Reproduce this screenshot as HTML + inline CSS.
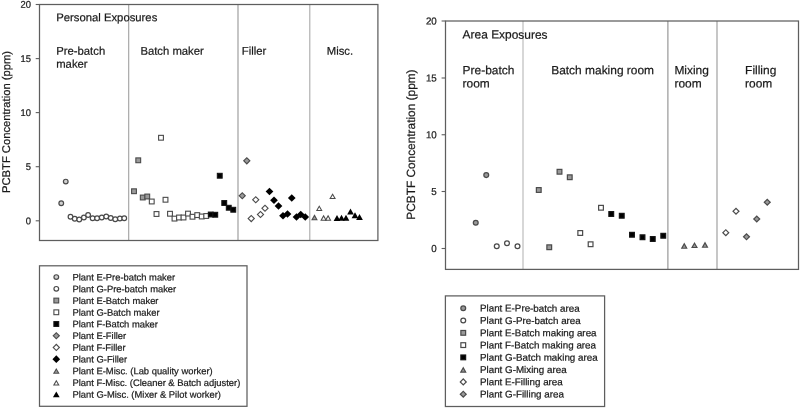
<!DOCTYPE html>
<html lang="en"><head><meta charset="utf-8"><title>PCBTF Concentration - Personal and Area Exposures</title>
<style>html,body{margin:0;padding:0;background:#fff}svg{display:block}text{font-family:"Liberation Sans",Arial,sans-serif;fill:#1a1a1a;stroke:#1a1a1a;stroke-width:.22px}</style></head><body>
<svg width="800" height="408" viewBox="0 0 800 408">
<rect width="800" height="408" fill="#fff"/>
<g fill="none" stroke="#5e5e5e" stroke-width="1.25">
<line x1="128.7" y1="4.5" x2="128.7" y2="240.5" stroke="#a0a0a0" stroke-width="1.1"/>
<line x1="238.0" y1="4.5" x2="238.0" y2="240.5" stroke="#969696" stroke-width="1.1"/>
<line x1="309.8" y1="4.5" x2="309.8" y2="240.5" stroke="#a8a8a8" stroke-width="1.1"/>
<rect x="39.5" y="4.5" width="338.4" height="236"/>
<line x1="35.7" y1="4.5" x2="39.5" y2="4.5" stroke-width="1.1"/>
<line x1="35.7" y1="58.6" x2="39.5" y2="58.6" stroke-width="1.1"/>
<line x1="35.7" y1="112.6" x2="39.5" y2="112.6" stroke-width="1.1"/>
<line x1="35.7" y1="166.7" x2="39.5" y2="166.7" stroke-width="1.1"/>
<line x1="35.7" y1="220.8" x2="39.5" y2="220.8" stroke-width="1.1"/>
</g>
<text transform="translate(30.9 7.85) rotate(.03) scale(1 1.04)" font-size="9.4" text-anchor="end">20</text>
<text transform="translate(30.9 61.95) rotate(.03) scale(1 1.04)" font-size="9.4" text-anchor="end">15</text>
<text transform="translate(30.9 115.95) rotate(.03) scale(1 1.04)" font-size="9.4" text-anchor="end">10</text>
<text transform="translate(30.9 170.05) rotate(.03) scale(1 1.04)" font-size="9.4" text-anchor="end">5</text>
<text transform="translate(30.9 224.15) rotate(.03) scale(1 1.04)" font-size="9.4" text-anchor="end">0</text>
<text transform="translate(10.1 122) rotate(-89.97)" font-size="11.2" text-anchor="middle" textLength="142" lengthAdjust="spacingAndGlyphs">PCBTF Concentration (ppm)</text>
<g font-size="11.3">
<text transform="translate(56.2 21.3) rotate(.03)">Personal Exposures</text>
<text transform="translate(56.2 54.8) rotate(.03)">Pre-batch</text>
<text transform="translate(56.2 67.8) rotate(.03)">maker</text>
<text transform="translate(140.4 54.8) rotate(.03)">Batch maker</text>
<text transform="translate(241.8 54.8) rotate(.03)">Filler</text>
<text transform="translate(326.8 54.8) rotate(.03)">Misc.</text>
</g>
<circle cx="65.75" cy="181.6" r="2.35" fill="#d0d0d0" stroke="#4a4a4a" stroke-width="1.2"/>
<circle cx="61.25" cy="203.25" r="2.35" fill="#d0d0d0" stroke="#4a4a4a" stroke-width="1.2"/>
<circle cx="70.5" cy="216.75" r="2.35" fill="#fff" stroke="#4a4a4a" stroke-width="1.2"/>
<circle cx="74.75" cy="218.75" r="2.35" fill="#fff" stroke="#4a4a4a" stroke-width="1.2"/>
<circle cx="79.25" cy="219.5" r="2.35" fill="#fff" stroke="#4a4a4a" stroke-width="1.2"/>
<circle cx="83.9" cy="217.5" r="2.35" fill="#fff" stroke="#4a4a4a" stroke-width="1.2"/>
<circle cx="88.1" cy="215" r="2.35" fill="#fff" stroke="#4a4a4a" stroke-width="1.2"/>
<circle cx="92.6" cy="218.25" r="2.35" fill="#fff" stroke="#4a4a4a" stroke-width="1.2"/>
<circle cx="97.1" cy="218.25" r="2.35" fill="#fff" stroke="#4a4a4a" stroke-width="1.2"/>
<circle cx="101.75" cy="217.5" r="2.35" fill="#fff" stroke="#4a4a4a" stroke-width="1.2"/>
<circle cx="106.25" cy="216.5" r="2.35" fill="#fff" stroke="#4a4a4a" stroke-width="1.2"/>
<circle cx="110.75" cy="218" r="2.35" fill="#fff" stroke="#4a4a4a" stroke-width="1.2"/>
<circle cx="115.25" cy="219.25" r="2.35" fill="#fff" stroke="#4a4a4a" stroke-width="1.2"/>
<circle cx="119.9" cy="218.5" r="2.35" fill="#fff" stroke="#4a4a4a" stroke-width="1.2"/>
<circle cx="124.25" cy="218.25" r="2.35" fill="#fff" stroke="#4a4a4a" stroke-width="1.2"/>
<rect x="135.85" y="157.9" width="4.8" height="4.8" fill="#9a9a9a" stroke="#4a4a4a" stroke-width="1.1"/>
<rect x="131.6" y="188.85" width="4.8" height="4.8" fill="#9a9a9a" stroke="#4a4a4a" stroke-width="1.1"/>
<rect x="140.35" y="195.1" width="4.8" height="4.8" fill="#9a9a9a" stroke="#4a4a4a" stroke-width="1.1"/>
<rect x="144.85" y="194.1" width="4.8" height="4.8" fill="#9a9a9a" stroke="#4a4a4a" stroke-width="1.1"/>
<rect x="149.35" y="199.1" width="4.8" height="4.8" fill="#fff" stroke="#4a4a4a" stroke-width="1.1"/>
<rect x="154.1" y="211.6" width="4.8" height="4.8" fill="#fff" stroke="#4a4a4a" stroke-width="1.1"/>
<rect x="158.6" y="135.35" width="4.8" height="4.8" fill="#fff" stroke="#4a4a4a" stroke-width="1.1"/>
<rect x="163.1" y="197.35" width="4.8" height="4.8" fill="#fff" stroke="#4a4a4a" stroke-width="1.1"/>
<rect x="167.6" y="211.35" width="4.8" height="4.8" fill="#fff" stroke="#4a4a4a" stroke-width="1.1"/>
<rect x="172.1" y="216.2" width="4.8" height="4.8" fill="#fff" stroke="#4a4a4a" stroke-width="1.1"/>
<rect x="176.6" y="215.1" width="4.8" height="4.8" fill="#fff" stroke="#4a4a4a" stroke-width="1.1"/>
<rect x="181.1" y="215.1" width="4.8" height="4.8" fill="#fff" stroke="#4a4a4a" stroke-width="1.1"/>
<rect x="185.6" y="211.2" width="4.8" height="4.8" fill="#fff" stroke="#4a4a4a" stroke-width="1.1"/>
<rect x="190.1" y="214.35" width="4.8" height="4.8" fill="#fff" stroke="#4a4a4a" stroke-width="1.1"/>
<rect x="194.85" y="212.7" width="4.8" height="4.8" fill="#fff" stroke="#4a4a4a" stroke-width="1.1"/>
<rect x="199.35" y="214.1" width="4.8" height="4.8" fill="#fff" stroke="#4a4a4a" stroke-width="1.1"/>
<rect x="203.85" y="213.6" width="4.8" height="4.8" fill="#fff" stroke="#4a4a4a" stroke-width="1.1"/>
<rect x="208.35" y="212.1" width="4.8" height="4.8" fill="#000" stroke="#141414" stroke-width="1.1"/>
<rect x="212.85" y="212.35" width="4.8" height="4.8" fill="#000" stroke="#141414" stroke-width="1.1"/>
<rect x="217.35" y="173.35" width="4.8" height="4.8" fill="#000" stroke="#141414" stroke-width="1.1"/>
<rect x="221.85" y="200.6" width="4.8" height="4.8" fill="#000" stroke="#141414" stroke-width="1.1"/>
<rect x="226.35" y="205.35" width="4.8" height="4.8" fill="#000" stroke="#141414" stroke-width="1.1"/>
<rect x="230.85" y="207.35" width="4.8" height="4.8" fill="#000" stroke="#141414" stroke-width="1.1"/>
<polygon points="246.8,156.95 250.65,160.8 246.8,164.65 242.95,160.8" fill="#4a4a4a"/><polygon points="246.8,158.51 249.09,160.8 246.8,163.09 244.51,160.8" fill="#9a9a9a"/>
<polygon points="242.25,191.9 246.1,195.75 242.25,199.6 238.4,195.75" fill="#4a4a4a"/><polygon points="242.25,193.46 244.54,195.75 242.25,198.04 239.96,195.75" fill="#9a9a9a"/>
<polygon points="251.25,214.7 255.1,218.55 251.25,222.4 247.4,218.55" fill="#4a4a4a"/><polygon points="251.25,216.26 253.54,218.55 251.25,220.84 248.96,218.55" fill="#fff"/>
<polygon points="255.75,195.9 259.6,199.75 255.75,203.6 251.9,199.75" fill="#4a4a4a"/><polygon points="255.75,197.46 258.04,199.75 255.75,202.04 253.46,199.75" fill="#fff"/>
<polygon points="260.5,210.65 264.35,214.5 260.5,218.35 256.65,214.5" fill="#4a4a4a"/><polygon points="260.5,212.21 262.79,214.5 260.5,216.79 258.21,214.5" fill="#fff"/>
<polygon points="265,204.4 268.85,208.25 265,212.1 261.15,208.25" fill="#4a4a4a"/><polygon points="265,205.96 267.29,208.25 265,210.54 262.71,208.25" fill="#fff"/>
<polygon points="269.5,187.65 273.35,191.5 269.5,195.35 265.65,191.5" fill="#000"/>
<polygon points="274,196.4 277.85,200.25 274,204.1 270.15,200.25" fill="#000"/>
<polygon points="278.5,202.15 282.35,206 278.5,209.85 274.65,206" fill="#000"/>
<polygon points="283,211.9 286.85,215.75 283,219.6 279.15,215.75" fill="#000"/>
<polygon points="287.5,210.15 291.35,214 287.5,217.85 283.65,214" fill="#000"/>
<polygon points="291.75,194.15 295.6,198 291.75,201.85 287.9,198" fill="#000"/>
<polygon points="296.5,213.15 300.35,217 296.5,220.85 292.65,217" fill="#000"/>
<polygon points="300.75,210.65 304.6,214.5 300.75,218.35 296.9,214.5" fill="#000"/>
<polygon points="305.25,213.15 309.1,217 305.25,220.85 301.4,217" fill="#000"/>
<polygon points="314.5,214.35 317.85,220.25 311.15,220.25" fill="#4a4a4a"/><polygon points="314.5,216.48 316.05,219.2 312.95,219.2" fill="#9a9a9a"/>
<polygon points="319.25,205.15 322.6,211.05 315.9,211.05" fill="#4a4a4a"/><polygon points="319.25,207.28 320.8,210 317.7,210" fill="#fff"/>
<polygon points="323.6,214.85 326.95,220.75 320.25,220.75" fill="#4a4a4a"/><polygon points="323.6,216.98 325.15,219.7 322.05,219.7" fill="#fff"/>
<polygon points="328.1,214.85 331.45,220.75 324.75,220.75" fill="#4a4a4a"/><polygon points="328.1,216.98 329.65,219.7 326.55,219.7" fill="#fff"/>
<polygon points="332.6,193.15 335.95,199.05 329.25,199.05" fill="#4a4a4a"/><polygon points="332.6,195.28 334.15,198 331.05,198" fill="#fff"/>
<polygon points="337,215.05 340.35,220.95 333.65,220.95" fill="#000"/>
<polygon points="341.5,214.8 344.85,220.7 338.15,220.7" fill="#000"/>
<polygon points="346,214.8 349.35,220.7 342.65,220.7" fill="#000"/>
<polygon points="350.5,208.55 353.85,214.45 347.15,214.45" fill="#000"/>
<polygon points="355,212.3 358.35,218.2 351.65,218.2" fill="#000"/>
<polygon points="359.5,214.05 362.85,219.95 356.15,219.95" fill="#000"/>
<rect x="39.5" y="265.8" width="207.5" height="140.5" fill="#fff" stroke="#5e5e5e" stroke-width="1.25"/>
<circle cx="56.3" cy="277.1" r="2.35" fill="#d0d0d0" stroke="#4a4a4a" stroke-width="1.2"/>
<text transform="translate(72.5 280.45) rotate(.03)" font-size="9.4">Plant E-Pre-batch maker</text>
<circle cx="56.3" cy="288.83" r="2.35" fill="#fff" stroke="#4a4a4a" stroke-width="1.2"/>
<text transform="translate(72.5 292.18) rotate(.03)" font-size="9.4">Plant G-Pre-batch maker</text>
<rect x="53.9" y="298.15" width="4.8" height="4.8" fill="#9a9a9a" stroke="#4a4a4a" stroke-width="1.1"/>
<text transform="translate(72.5 303.9) rotate(.03)" font-size="9.4">Plant E-Batch maker</text>
<rect x="53.9" y="309.88" width="4.8" height="4.8" fill="#fff" stroke="#4a4a4a" stroke-width="1.1"/>
<text transform="translate(72.5 315.63) rotate(.03)" font-size="9.4">Plant G-Batch maker</text>
<rect x="53.9" y="321.6" width="4.8" height="4.8" fill="#000" stroke="#141414" stroke-width="1.1"/>
<text transform="translate(72.5 327.35) rotate(.03)" font-size="9.4">Plant F-Batch maker</text>
<polygon points="56.3,331.88 60.15,335.73 56.3,339.58 52.45,335.73" fill="#4a4a4a"/><polygon points="56.3,333.43 58.59,335.73 56.3,338.02 54.01,335.73" fill="#9a9a9a"/>
<text transform="translate(72.5 339.08) rotate(.03)" font-size="9.4">Plant E-Filler</text>
<polygon points="56.3,343.6 60.15,347.45 56.3,351.3 52.45,347.45" fill="#4a4a4a"/><polygon points="56.3,345.16 58.59,347.45 56.3,349.74 54.01,347.45" fill="#fff"/>
<text transform="translate(72.5 350.8) rotate(.03)" font-size="9.4">Plant F-Filler</text>
<polygon points="56.3,355.32 60.15,359.18 56.3,363.03 52.45,359.18" fill="#000"/>
<text transform="translate(72.5 362.53) rotate(.03)" font-size="9.4">Plant G-Filler</text>
<polygon points="56.3,367.95 59.65,373.85 52.95,373.85" fill="#4a4a4a"/><polygon points="56.3,370.08 57.85,372.8 54.75,372.8" fill="#9a9a9a"/>
<text transform="translate(72.5 374.25) rotate(.03)" font-size="9.4">Plant E-Misc. (Lab quality worker)</text>
<polygon points="56.3,379.68 59.65,385.57 52.95,385.57" fill="#4a4a4a"/><polygon points="56.3,381.8 57.85,384.52 54.75,384.52" fill="#fff"/>
<text transform="translate(72.5 385.98) rotate(.03)" font-size="9.4">Plant F-Misc. (Cleaner &amp; Batch adjuster)</text>
<polygon points="56.3,391.4 59.65,397.3 52.95,397.3" fill="#000"/>
<text transform="translate(72.5 397.7) rotate(.03)" font-size="9.4">Plant G-Misc. (Mixer &amp; Pilot worker)</text>
<g fill="none" stroke="#5e5e5e" stroke-width="1.25">
<line x1="523.0" y1="21.0" x2="523.0" y2="269.4" stroke="#b6b6b6" stroke-width="1.1"/>
<line x1="667.9" y1="21.0" x2="667.9" y2="269.4" stroke="#8e8e8e" stroke-width="1.1"/>
<line x1="717.0" y1="21.0" x2="717.0" y2="269.4" stroke="#989898" stroke-width="1.1"/>
<rect x="445.5" y="21.0" width="353" height="248.4"/>
<line x1="441.6" y1="21" x2="445.5" y2="21" stroke-width="1.1"/>
<line x1="441.6" y1="78" x2="445.5" y2="78" stroke-width="1.1"/>
<line x1="441.6" y1="134.75" x2="445.5" y2="134.75" stroke-width="1.1"/>
<line x1="441.6" y1="191.5" x2="445.5" y2="191.5" stroke-width="1.1"/>
<line x1="441.6" y1="248.5" x2="445.5" y2="248.5" stroke-width="1.1"/>
</g>
<text transform="translate(436.8 24.5) rotate(.03) scale(1 1.04)" font-size="9.8" text-anchor="end">20</text>
<text transform="translate(436.8 81.5) rotate(.03) scale(1 1.04)" font-size="9.8" text-anchor="end">15</text>
<text transform="translate(436.8 138.25) rotate(.03) scale(1 1.04)" font-size="9.8" text-anchor="end">10</text>
<text transform="translate(436.8 195) rotate(.03) scale(1 1.04)" font-size="9.8" text-anchor="end">5</text>
<text transform="translate(436.8 252) rotate(.03) scale(1 1.04)" font-size="9.8" text-anchor="end">0</text>
<text transform="translate(415 144.6) rotate(-89.97)" font-size="11.9" text-anchor="middle" textLength="150.3" lengthAdjust="spacingAndGlyphs">PCBTF Concentration (ppm)</text>
<g font-size="11.95">
<text transform="translate(462.6 38.6) rotate(.03)">Area Exposures</text>
<text transform="translate(462.6 74.3) rotate(.03)">Pre-batch</text>
<text transform="translate(462.6 87.6) rotate(.03)">room</text>
<text transform="translate(551.2 74.3) rotate(.03)">Batch making room</text>
<text transform="translate(674.4 74.3) rotate(.03)">Mixing</text>
<text transform="translate(674.4 87.6) rotate(.03)">room</text>
<text transform="translate(745.1 74.3) rotate(.03)">Filling</text>
<text transform="translate(745.1 87.6) rotate(.03)">room</text>
</g>
<circle cx="486.25" cy="175.1" r="2.42" fill="#9a9a9a" stroke="#4a4a4a" stroke-width="1.25"/>
<circle cx="475.75" cy="222.75" r="2.42" fill="#9a9a9a" stroke="#4a4a4a" stroke-width="1.25"/>
<circle cx="496.75" cy="246.25" r="2.42" fill="#fff" stroke="#4a4a4a" stroke-width="1.25"/>
<circle cx="507" cy="243.25" r="2.42" fill="#fff" stroke="#4a4a4a" stroke-width="1.25"/>
<circle cx="517.5" cy="246.25" r="2.42" fill="#fff" stroke="#4a4a4a" stroke-width="1.25"/>
<rect x="536.38" y="187.62" width="4.75" height="4.75" fill="#9a9a9a" stroke="#4a4a4a" stroke-width="1.2"/>
<rect x="546.88" y="244.88" width="4.75" height="4.75" fill="#9a9a9a" stroke="#4a4a4a" stroke-width="1.2"/>
<rect x="557.12" y="169.38" width="4.75" height="4.75" fill="#9a9a9a" stroke="#4a4a4a" stroke-width="1.2"/>
<rect x="567.38" y="174.88" width="4.75" height="4.75" fill="#9a9a9a" stroke="#4a4a4a" stroke-width="1.2"/>
<rect x="577.88" y="230.62" width="4.75" height="4.75" fill="#fff" stroke="#4a4a4a" stroke-width="1.2"/>
<rect x="588.23" y="241.88" width="4.75" height="4.75" fill="#fff" stroke="#4a4a4a" stroke-width="1.2"/>
<rect x="598.62" y="205.38" width="4.75" height="4.75" fill="#fff" stroke="#4a4a4a" stroke-width="1.2"/>
<rect x="608.88" y="211.62" width="4.75" height="4.75" fill="#000" stroke="#141414" stroke-width="1.2"/>
<rect x="619.38" y="213.38" width="4.75" height="4.75" fill="#000" stroke="#141414" stroke-width="1.2"/>
<rect x="629.62" y="232.38" width="4.75" height="4.75" fill="#000" stroke="#141414" stroke-width="1.2"/>
<rect x="640.12" y="234.88" width="4.75" height="4.75" fill="#000" stroke="#141414" stroke-width="1.2"/>
<rect x="650.38" y="236.62" width="4.75" height="4.75" fill="#000" stroke="#141414" stroke-width="1.2"/>
<rect x="660.88" y="233.38" width="4.75" height="4.75" fill="#000" stroke="#141414" stroke-width="1.2"/>
<polygon points="684.25,242.6 687.7,248.8 680.8,248.8" fill="#4a4a4a"/><polygon points="684.25,244.97 685.74,247.65 682.76,247.65" fill="#9a9a9a"/>
<polygon points="694.5,241.9 697.95,248.1 691.05,248.1" fill="#4a4a4a"/><polygon points="694.5,244.27 695.99,246.95 693.01,246.95" fill="#9a9a9a"/>
<polygon points="705,241.6 708.45,247.8 701.55,247.8" fill="#4a4a4a"/><polygon points="705,243.97 706.49,246.65 703.51,246.65" fill="#9a9a9a"/>
<polygon points="725.8,228.9 729.6,232.7 725.8,236.5 722,232.7" fill="#4a4a4a"/><polygon points="725.8,230.6 727.9,232.7 725.8,234.8 723.7,232.7" fill="#fff"/>
<polygon points="736,207.45 739.8,211.25 736,215.05 732.2,211.25" fill="#4a4a4a"/><polygon points="736,209.15 738.1,211.25 736,213.35 733.9,211.25" fill="#fff"/>
<polygon points="746.5,233 750.3,236.8 746.5,240.6 742.7,236.8" fill="#4a4a4a"/><polygon points="746.5,234.7 748.6,236.8 746.5,238.9 744.4,236.8" fill="#9a9a9a"/>
<polygon points="756.75,215.2 760.55,219 756.75,222.8 752.95,219" fill="#4a4a4a"/><polygon points="756.75,216.9 758.85,219 756.75,221.1 754.65,219" fill="#9a9a9a"/>
<polygon points="767.25,198.45 771.05,202.25 767.25,206.05 763.45,202.25" fill="#4a4a4a"/><polygon points="767.25,200.15 769.35,202.25 767.25,204.35 765.15,202.25" fill="#9a9a9a"/>
<rect x="445.4" y="295.9" width="159.2" height="110.6" fill="#fff" stroke="#5e5e5e" stroke-width="1.25"/>
<circle cx="463.25" cy="308.3" r="2.42" fill="#9a9a9a" stroke="#4a4a4a" stroke-width="1.25"/>
<text transform="translate(480.0 311.6) rotate(.03)" font-size="9.8">Plant E-Pre-batch area</text>
<circle cx="463.25" cy="320.57" r="2.42" fill="#fff" stroke="#4a4a4a" stroke-width="1.25"/>
<text transform="translate(480.0 323.87) rotate(.03)" font-size="9.8">Plant G-Pre-batch area</text>
<rect x="460.88" y="330.47" width="4.75" height="4.75" fill="#9a9a9a" stroke="#4a4a4a" stroke-width="1.2"/>
<text transform="translate(480.0 336.14) rotate(.03)" font-size="9.8">Plant E-Batch making area</text>
<rect x="460.88" y="342.74" width="4.75" height="4.75" fill="#fff" stroke="#4a4a4a" stroke-width="1.2"/>
<text transform="translate(480.0 348.41) rotate(.03)" font-size="9.8">Plant F-Batch making area</text>
<rect x="460.88" y="355" width="4.75" height="4.75" fill="#000" stroke="#141414" stroke-width="1.2"/>
<text transform="translate(480.0 360.68) rotate(.03)" font-size="9.8">Plant G-Batch making area</text>
<polygon points="463.25,366.55 466.7,372.75 459.8,372.75" fill="#4a4a4a"/><polygon points="463.25,368.92 464.74,371.6 461.76,371.6" fill="#9a9a9a"/>
<text transform="translate(480.0 372.95) rotate(.03)" font-size="9.8">Plant G-Mixing area</text>
<polygon points="463.25,378.12 467.05,381.92 463.25,385.72 459.45,381.92" fill="#4a4a4a"/><polygon points="463.25,379.82 465.35,381.92 463.25,384.02 461.15,381.92" fill="#fff"/>
<text transform="translate(480.0 385.22) rotate(.03)" font-size="9.8">Plant E-Filling area</text>
<polygon points="463.25,390.39 467.05,394.19 463.25,397.99 459.45,394.19" fill="#4a4a4a"/><polygon points="463.25,392.09 465.35,394.19 463.25,396.29 461.15,394.19" fill="#9a9a9a"/>
<text transform="translate(480.0 397.49) rotate(.03)" font-size="9.8">Plant G-Filling area</text>
</svg></body></html>
